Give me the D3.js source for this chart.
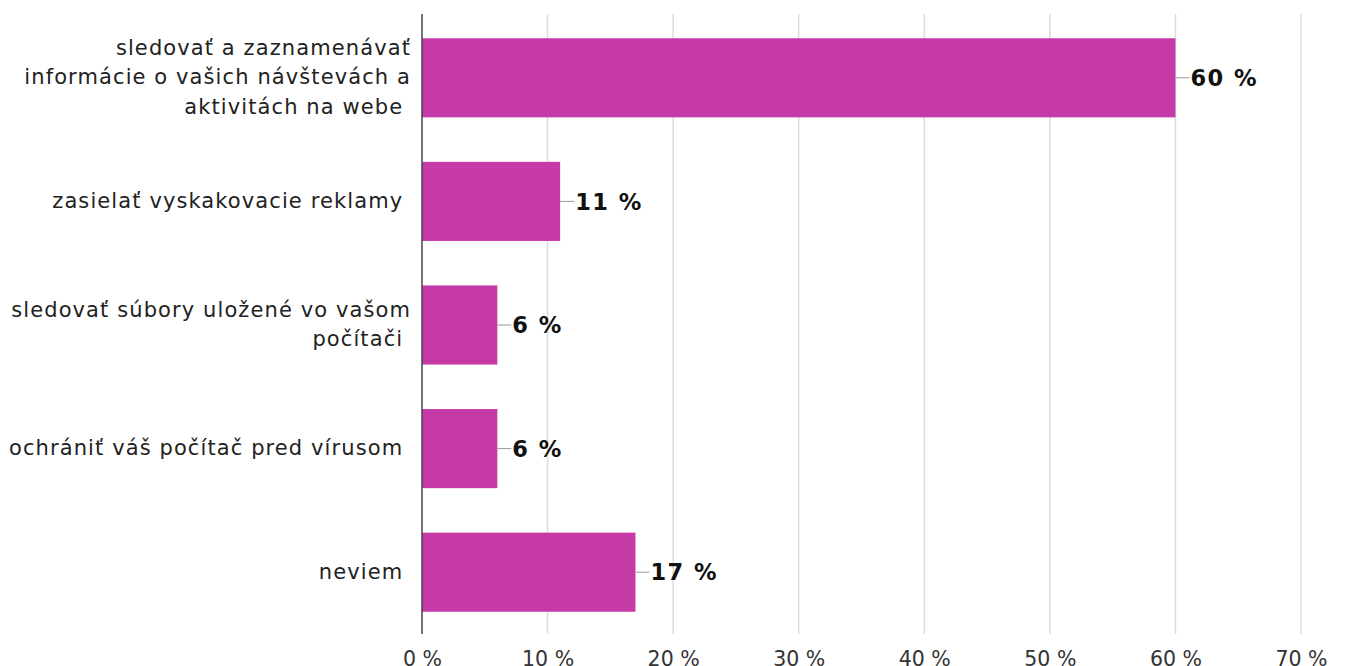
<!DOCTYPE html>
<html>
<head>
<meta charset="utf-8">
<script src="https://cdn.jsdelivr.net/npm/d3@7"></script>
<style>
  body { margin: 0; background: #fff; }
  text { font-family: "DejaVu Sans", Verdana, sans-serif; }
</style>
</head>
<body>
<svg id="chart" width="1346" height="666"></svg>
<script>
var categories = [
    ["sledovať a zaznamenávať", "informácie o vašich návštevách a", "aktivitách na webe "],
    ["zasielať vyskakovacie reklamy "],
    ["sledovať súbory uložené vo vašom", "počítači "],
    ["ochrániť váš počítač pred vírusom "],
    ["neviem "]
];
var values = [60, 11, 6, 6, 17];
var ticks = [0, 10, 20, 30, 40, 50, 60, 70];

var barColor = "#c63aa8";
var plotLeft = 422, plotRight = 1301, plotTop = 14, plotBottom = 634;

var svg = d3.select("#chart");

var x = d3.scaleLinear().domain([0, 70]).range([plotLeft, plotRight]);
var y = d3.scaleBand().domain(d3.range(values.length))
    .range([plotTop + 2, plotBottom]).paddingInner(0.36).paddingOuter(0.18);

// grid
svg.append("g").selectAll("line").data(ticks.slice(1)).enter().append("line")
    .attr("x1", function (d) { return x(d); })
    .attr("x2", function (d) { return x(d); })
    .attr("y1", plotTop).attr("y2", plotBottom)
    .attr("stroke", "#dcdcdc").attr("stroke-width", 1.5);

// tick labels
var xAxis = d3.axisBottom(x).tickValues(ticks).tickSize(0).tickPadding(0)
    .tickFormat(function (d) { return d + " %"; });
var ax = svg.append("g").attr("transform", "translate(0," + (plotBottom + 17) + ")").call(xAxis);
ax.select(".domain").remove();
ax.selectAll("text").attr("font-size", 20.5).attr("fill", "#333")
    .attr("font-family", "\"DejaVu Sans\", Verdana, sans-serif");

// bars
svg.append("g").selectAll("rect").data(values).enter().append("rect")
    .attr("x", x(0))
    .attr("y", function (d, i) { return y(i); })
    .attr("width", function (d) { return x(d) - x(0); })
    .attr("height", y.bandwidth())
    .attr("fill", barColor);

// leader lines and values
var vg = svg.append("g");
values.forEach(function (d, i) {
    var cy = y(i) + y.bandwidth() / 2;
    vg.append("line")
        .attr("x1", x(d)).attr("x2", x(d) + 14)
        .attr("y1", cy).attr("y2", cy)
        .attr("stroke", "#999").attr("stroke-width", 1);
    vg.append("text")
        .attr("x", x(d) + 15).attr("y", cy)
        .attr("dy", "0.36em")
        .attr("font-size", 22.5).attr("font-weight", "bold").attr("fill", "#111")
        .attr("letter-spacing", 1.5)
        .text(d + " %");
});

// category labels
var lg = svg.append("g");
categories.forEach(function (lines, i) {
    var cy = y(i) + y.bandwidth() / 2;
    var lh = 29.5;
    var y0 = cy - (lines.length - 1) * lh / 2;
    var t = lg.append("text")
        .attr("text-anchor", "end")
        .attr("font-size", 21).attr("fill", "#222")
        .attr("letter-spacing", 1.1)
        .style("white-space", "pre");
    lines.forEach(function (s, j) {
        t.append("tspan").attr("x", 411).attr("y", y0 + j * lh - 1).attr("dy", "0.35em").text(s);
    });
});

// axis line
svg.append("line")
    .attr("x1", plotLeft).attr("x2", plotLeft)
    .attr("y1", plotTop).attr("y2", plotBottom)
    .attr("stroke", "#444").attr("stroke-width", 1.5);
</script>
</body>
</html>
